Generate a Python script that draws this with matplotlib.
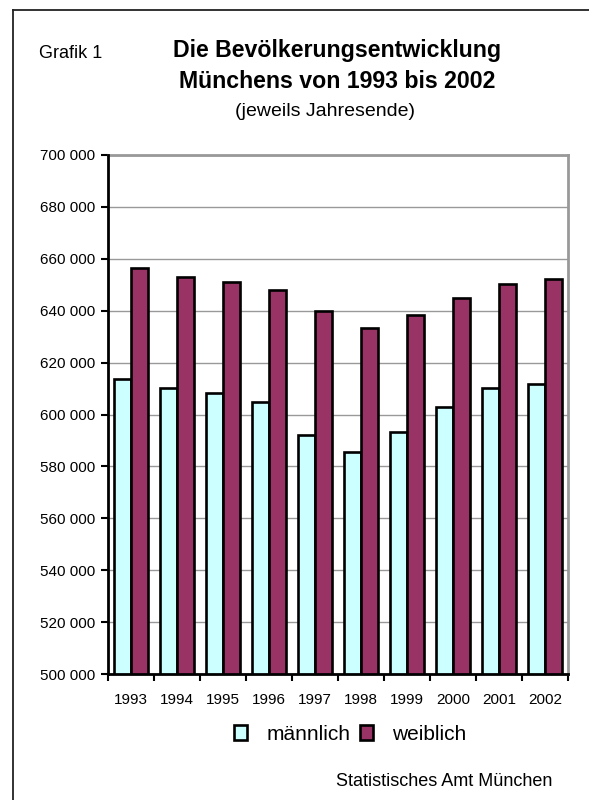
import numpy as np
import matplotlib.pyplot as plt
from matplotlib.lines import Line2D
from matplotlib.patches import Patch

plt.rcParams['font.family'] = ['Liberation Sans', 'DejaVu Sans']

# Bevoelkerung Muenchen, jeweils Jahresende
jahre = ['1993', '1994', '1995', '1996', '1997', '1998', '1999', '2000', '2001', '2002']
maennlich = [613700, 610100, 608200, 604700, 592200, 585600, 593400, 603000, 610100, 611900]
weiblich = [656300, 653100, 650900, 648100, 640000, 633200, 638200, 644800, 650400, 652200]
yticks = np.arange(500000, 700001, 20000)

fig = plt.figure(figsize=(5.89, 8.0), dpi=100)
ax = fig.add_axes([108/589, 1 - 674/800, (568 - 108)/589, (674 - 155)/800])

x = np.arange(len(jahre))
b = 0.37
ax.bar(x - b/2, maennlich, b, color='#CCFFFF', edgecolor='black', linewidth=1.9, zorder=3)
ax.bar(x + b/2, weiblich, b, color='#993366', edgecolor='black', linewidth=1.9, zorder=3)

ax.set_ylim(500000, 700000)
ax.set_xlim(-0.5, len(jahre) - 0.5)
ax.set_yticks(yticks)
ax.set_yticklabels([f'{v:,}'.replace(',', ' ') for v in yticks], fontsize=11)
ax.yaxis.grid(True, color='#999999', linewidth=1.0, zorder=0)

ax.set_xticks(x)
ax.set_xticklabels(jahre, fontsize=11)
ax.set_xticks(np.arange(-0.5, len(jahre)), minor=True)
ax.tick_params(axis='x', which='major', length=0, pad=14)
ax.tick_params(axis='x', which='minor', length=5, width=1.5, direction='out')
ax.tick_params(axis='y', length=5, width=1.5, direction='out', pad=4)

for s in ['left', 'bottom']:
    ax.spines[s].set_color('black')
    ax.spines[s].set_linewidth(2)
for s in ['top', 'right']:
    ax.spines[s].set_color('#999999')
    ax.spines[s].set_linewidth(2)
ax.spines['left'].set_zorder(4)
ax.spines['bottom'].set_zorder(4)

# Rahmen oben und links
fig.add_artist(Line2D([13/589, 1], [1 - 10/800, 1 - 10/800], color='#222222', linewidth=1.3))
fig.add_artist(Line2D([13/589, 13/589], [0, 1 - 10/800], color='#222222', linewidth=1.3))

fig.text(39/589, 1 - 53/800, 'Grafik 1', fontsize=13, ha='left', va='center')
fig.text(337/589, 1 - 51/800, 'Die Bevölkerungsentwicklung', fontsize=16.7,
         fontweight='bold', ha='center', va='center')
fig.text(337/589, 1 - 82/800, 'Münchens von 1993 bis 2002', fontsize=16.7,
         fontweight='bold', ha='center', va='center')
fig.text(325/589, 1 - 112/800, '(jeweils Jahresende)', fontsize=14,
         ha='center', va='center')

handles = [Patch(facecolor='#CCFFFF', edgecolor='black', linewidth=1.9),
           Patch(facecolor='#993366', edgecolor='black', linewidth=1.9)]
fig.legend(handles, ['männlich', 'weiblich'], loc='center', ncol=2,
           bbox_to_anchor=(350/589, 1 - 734/800), frameon=False, fontsize=15,
           handlelength=0.65, handleheight=0.7, handletextpad=0.9, columnspacing=0.45)

fig.text(552/589, 1 - 782/800, 'Statistisches Amt München', fontsize=13,
         ha='right', va='center')

fig.savefig('out.png', dpi=100)
